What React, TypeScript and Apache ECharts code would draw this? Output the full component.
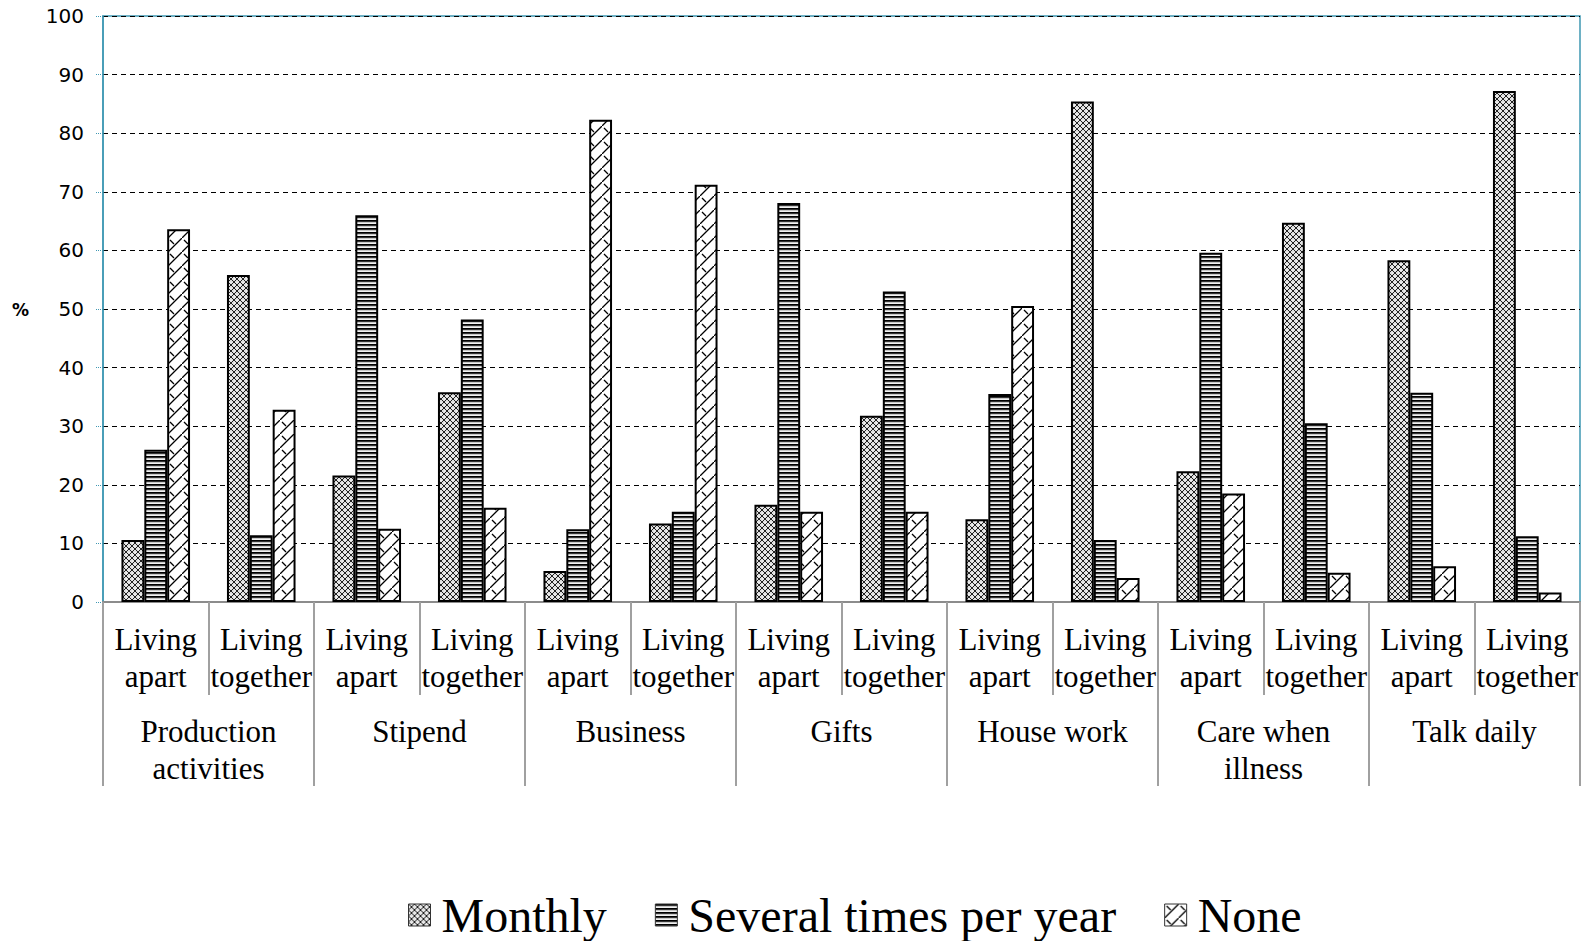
import React, { useEffect, useRef } from "react";
import * as echarts from "echarts";

const groups = ["Production\nactivities", "Stipend", "Business", "Gifts", "House work", "Care when\nillness", "Talk daily"];
const subCats = [
  "Living\napart", "Living\ntogether", "Living\napart", "Living\ntogether",
  "Living\napart", "Living\ntogether", "Living\napart", "Living\ntogether",
  "Living\napart", "Living\ntogether", "Living\napart", "Living\ntogether",
  "Living\napart", "Living\ntogether",
];
const monthly = [10.6, 55.8, 21.6, 35.8, 5.3, 13.4, 16.6, 31.8, 14.1, 85.4, 22.3, 64.7, 58.3, 87.2];
const severalTimes = [26.0, 11.4, 66.0, 48.2, 12.4, 15.4, 68.1, 53.0, 35.5, 10.6, 59.6, 30.5, 35.7, 11.2];
const none = [63.6, 32.8, 12.5, 16.1, 82.3, 71.2, 15.4, 15.4, 50.5, 4.1, 18.5, 5.0, 6.1, 1.6];
const yTicks = [0, 10, 20, 30, 40, 50, 60, 70, 80, 90, 100];

function makeCanvas(w: number, h: number, draw: (ctx: CanvasRenderingContext2D) => void) {
  const c = document.createElement("canvas");
  c.width = w;
  c.height = h;
  const ctx = c.getContext("2d")!;
  draw(ctx);
  return c;
}

export default function App() {
  const ref = useRef<HTMLDivElement>(null);
  useEffect(() => {
    if (!ref.current) return;
    const chart = echarts.init(ref.current, undefined, { renderer: "svg" });

    const monthlyPat = makeCanvas(6, 6, (ctx) => {
      ctx.fillStyle = "#e0e0e0";
      ctx.fillRect(0, 0, 6, 6);
      ctx.strokeStyle = "#222";
      ctx.lineWidth = 1;
      ctx.beginPath();
      ctx.moveTo(0, 0); ctx.lineTo(6, 6);
      ctx.moveTo(6, 0); ctx.lineTo(0, 6);
      ctx.stroke();
      ctx.fillStyle = "#ffffff";
      ctx.fillRect(2.5, 0, 1, 1);
      ctx.fillRect(0, 2.5, 1, 1);
    });
    const severalPat = makeCanvas(4, 4, (ctx) => {
      ctx.fillStyle = "#000";
      ctx.fillRect(0, 0, 4, 1);
      ctx.fillStyle = "#333";
      ctx.fillRect(0, 1, 4, 1);
      ctx.fillStyle = "#c8c8c8";
      ctx.fillRect(0, 2, 4, 1);
      ctx.fillStyle = "#f2f2f2";
      ctx.fillRect(0, 3, 4, 1);
    });
    const nonePat = makeCanvas(14, 14, (ctx) => {
      ctx.fillStyle = "#fff";
      ctx.fillRect(0, 0, 14, 14);
      ctx.strokeStyle = "#000";
      ctx.lineWidth = 1.3;
      ctx.beginPath();
      ctx.moveTo(0, 14); ctx.lineTo(14, 0);
      ctx.moveTo(2, 2); ctx.lineTo(6, 6);
      ctx.stroke();
    });

    const pat = (c: HTMLCanvasElement) => ({ image: c, repeat: "repeat", imageWidth: c.width, imageHeight: c.height } as any);
    const teal = "#3f98b3";
    const grey = "#8c8c8c";

    const barBase = {
      type: "bar",
      barGap: "0%",
      barCategoryGap: "35%",
      xAxisIndex: 0,
    };

    chart.setOption({
      animation: false,
      backgroundColor: "#fff",
      grid: {
        left: 103, right: 15, top: 16, bottom: 339,
        show: true, borderColor: teal, borderWidth: 1.5, backgroundColor: "transparent",
      },
      legend: {
        left: 403, top: 886,
        itemWidth: 22, itemHeight: 22, itemGap: 48,
        icon: "rect",
        itemStyle: { borderColor: "#333", borderWidth: 1 },
        textStyle: { fontFamily: "Liberation Serif", fontSize: 48, color: "#000", padding: [0, 0, 0, 6] },
        data: ["Monthly", "Several times per year", "None"],
      },
      xAxis: [
        {
          type: "category",
          position: "bottom",
          data: subCats,
          axisLine: { show: true, lineStyle: { color: grey, width: 2 } },
          axisTick: { show: true, interval: 0, length: 93, lineStyle: { color: "#a0a0a0", width: 2 } },
          axisLabel: {
            interval: 0, margin: 19, fontFamily: "Liberation Serif", fontSize: 31,
            lineHeight: 37, color: "#000",
          },
          splitLine: { show: false },
        },
        {
          type: "category",
          position: "bottom",
          data: groups,
          axisLine: { show: false },
          axisTick: { show: true, interval: 0, length: 184, lineStyle: { color: "#a0a0a0", width: 2 } },
          axisLabel: {
            interval: 0, margin: 111, fontFamily: "Liberation Serif", fontSize: 31,
            lineHeight: 37, color: "#000",
          },
          splitLine: { show: false },
        },
      ],
      yAxis: {
        type: "value",
        min: yTicks[0], max: yTicks[yTicks.length - 1], interval: 10,
        axisLine: { show: true, lineStyle: { color: teal, width: 1.5 } },
        axisTick: { show: true, length: 7, lineStyle: { color: teal, type: "dotted", width: 1 } },
        axisLabel: { margin: 19, fontFamily: "DejaVu Sans", fontSize: 20, color: "#000" },
        splitLine: { show: true, lineStyle: { color: "#000", type: [5, 4], width: 1 } },
      },
      graphic: [
        {
          type: "text", left: 12, top: 301,
          style: { text: "%", fontFamily: "DejaVu Sans", fontSize: 17, fontWeight: "bold", fill: "#000" },
        },
      ],
      series: [
        { ...barBase, name: "Monthly", data: monthly, itemStyle: { color: pat(monthlyPat), borderColor: "#000", borderWidth: 2 } },
        { ...barBase, name: "Several times per year", data: severalTimes, itemStyle: { color: pat(severalPat), borderColor: "#000", borderWidth: 2 } },
        { ...barBase, name: "None", data: none, itemStyle: { color: pat(nonePat), borderColor: "#000", borderWidth: 2 } },
      ],
    });
    return () => chart.dispose();
  }, []);
  return <div ref={ref} style={{ position: "fixed", left: 0, top: 0, width: 1595, height: 941 }} />;
}
